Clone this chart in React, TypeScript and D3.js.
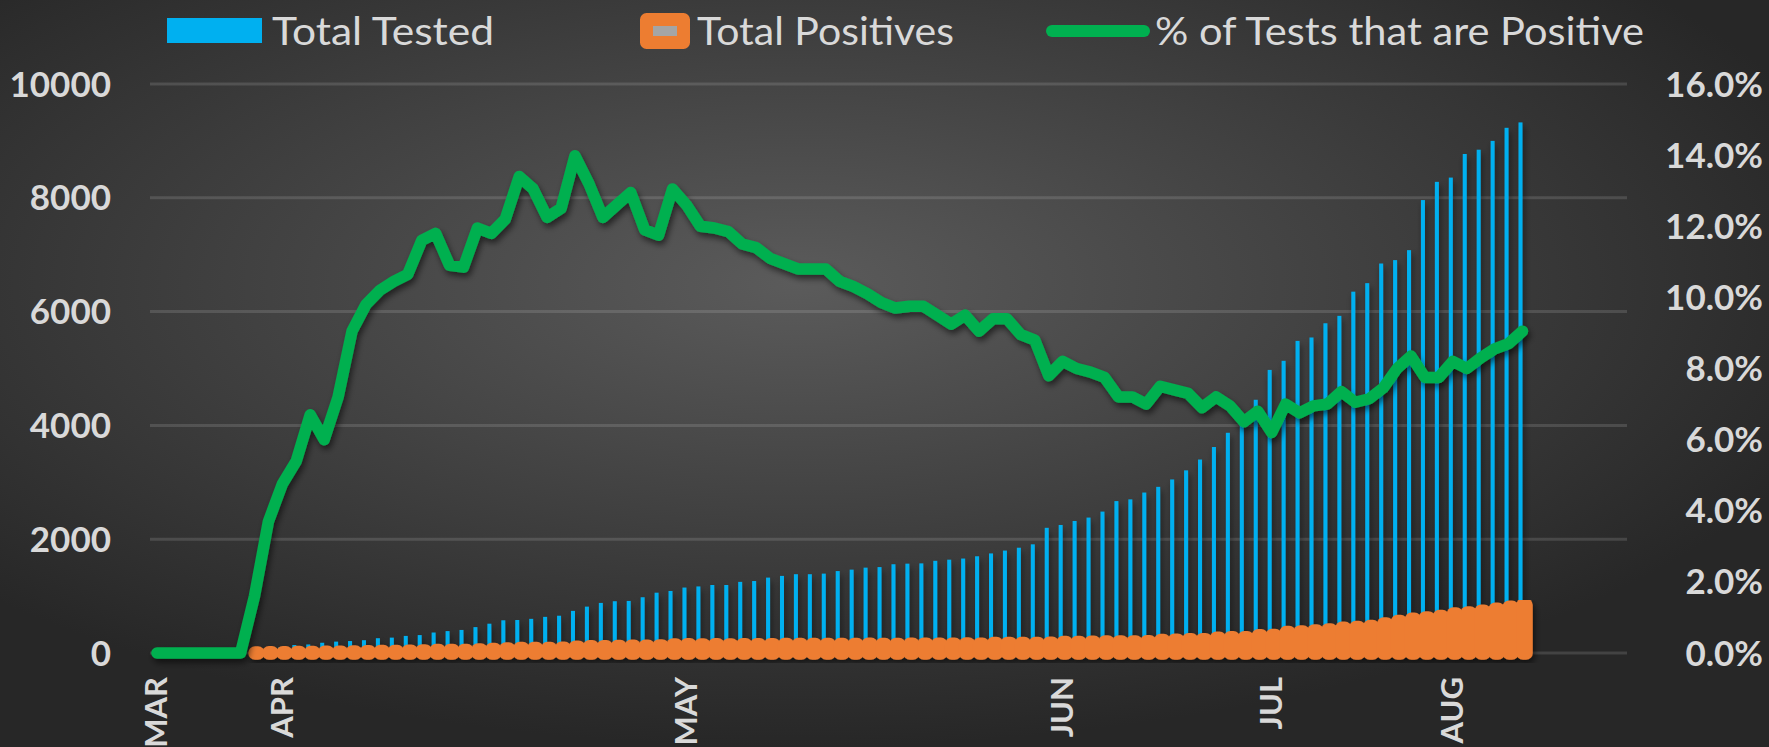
import { useMemo } from 'react';
import * as d3 from 'd3';

const width = 1769;
const height = 747;
const margin = { top: 84, right: 142, bottom: 94, left: 150 };

// category axis: one slot per reporting day, bars start at slot 7
const categoryCount = 106;
const barStart = 7;

const monthLabels = ['MAR', 'APR', 'MAY', 'JUN', 'JUL', 'AUG'];
const monthIndex = [0, 9, 38, 65, 80, 93];

const leftTicks = [0, 2000, 4000, 6000, 8000, 10000];
const rightTicks = [0, 2, 4, 6, 8, 10, 12, 14, 16];

// % of tests that are positive, slots 0..98
const pctPositive = [
  0, 0, 0, 0, 0, 0, 0, 1.6, 3.7, 4.75,
  5.4, 6.7, 6.0, 7.2, 9.05, 9.8, 10.2, 10.45, 10.65, 11.6,
  11.8, 10.9, 10.85, 11.95, 11.8, 12.2, 13.4, 13.05, 12.25, 12.5,
  13.98, 13.2, 12.25, 12.6, 12.95, 11.9, 11.75, 13.05, 12.6, 12.0,
  11.95, 11.85, 11.5, 11.4, 11.1, 10.95, 10.8, 10.8, 10.8, 10.45,
  10.3, 10.1, 9.85, 9.7, 9.75, 9.75, 9.5, 9.25, 9.5, 9.05,
  9.4, 9.4, 8.95, 8.8, 7.8, 8.2, 8.0, 7.9, 7.75, 7.2,
  7.2, 7.0, 7.5, 7.4, 7.3, 6.9, 7.2, 6.95, 6.5, 6.8,
  6.2, 7.0, 6.75, 6.95, 7.0, 7.35, 7.05, 7.15, 7.45, 8.0,
  8.35, 7.75, 7.75, 8.2, 8.0, 8.3, 8.55, 8.7, 9.05,
];

// totals from slot 7 onward
const totalTested = [
  30, 70, 100, 140, 150, 180, 200, 210, 225, 260,
  270, 300, 315, 360, 385, 405, 455, 515, 575, 580,
  600, 635, 655, 740, 815, 880, 910, 915, 980, 1060,
  1090, 1150, 1170, 1195, 1195, 1250, 1265, 1325, 1355, 1385,
  1385, 1395, 1440, 1465, 1500, 1510, 1560, 1570, 1575, 1620,
  1640, 1660, 1700, 1750, 1800, 1850, 1910, 2200, 2250, 2320,
  2380, 2485, 2670, 2700, 2820, 2920, 3050, 3210, 3400, 3620,
  3870, 4110, 4450, 4975, 5135, 5485, 5545, 5795, 5925, 6350,
  6500, 6845, 6905, 7080, 7960, 8280, 8355, 8770, 8845, 9000,
  9230, 9325,
];

const totalPositives = [
  1, 3, 5, 8, 10, 11, 14, 19, 22, 27,
  28, 32, 37, 42, 42, 44, 54, 61, 70, 78,
  78, 78, 82, 103, 108, 108, 115, 118, 117, 125,
  142, 145, 140, 143, 142, 144, 144, 147, 148, 150,
  150, 151, 150, 151, 152, 149, 151, 153, 154, 154,
  152, 158, 154, 165, 169, 166, 168, 172, 185, 186,
  188, 193, 192, 194, 197, 219, 226, 234, 235, 261,
  269, 267, 303, 308, 359, 370, 385, 406, 435, 448,
  465, 510, 552, 591, 617, 642, 685, 702, 734, 770,
  803, 844,
];

const textColor = '#d9d9d9';
const blue = '#00b0f0';
const orange = '#ed7d31';
const green = '#00b050';
const font = 'Lato, "Open Sans", sans-serif';

const App = () => {
  const x = useMemo(
    () =>
      d3
        .scaleBand<number>()
        .domain(d3.range(categoryCount))
        .range([margin.left, width - margin.right]),
    [],
  );
  const y = useMemo(
    () => d3.scaleLinear().domain([0, 10000]).range([height - margin.bottom, margin.top]),
    [],
  );
  const yPct = useMemo(
    () => d3.scaleLinear().domain([0, 16]).range([height - margin.bottom, margin.top]),
    [],
  );

  const cx = (i: number) => x(i)! + x.bandwidth() / 2;

  const linePath = d3
    .line<number>()
    .x((_, i) => cx(i))
    .y((d) => yPct(d))(pctPositive);

  const orangeW = 3;
  const blueW = 4;

  return (
    <svg
      width={width}
      height={height}
      style={{ position: 'absolute', left: 0, top: 0 }}
      fontFamily={font}
    >
      <defs>
        <radialGradient id="bg" cx="0.45" cy="0.38" r="0.62">
          <stop offset="0" stopColor="#5b5b5b" />
          <stop offset="1" stopColor="#272727" />
        </radialGradient>
        <filter id="shadow" x="-10%" y="-10%" width="120%" height="130%">
          <feDropShadow dx="2" dy="4" stdDeviation="3" floodColor="#000" floodOpacity="0.55" />
        </filter>
      </defs>
      <rect width={width} height={height} fill="url(#bg)" />

      {/* grid */}
      {leftTicks.map((t) => (
        <line
          key={t}
          x1={margin.left}
          x2={width - margin.right}
          y1={y(t)}
          y2={y(t)}
          stroke="rgba(217,217,217,0.16)"
          strokeWidth={3}
        />
      ))}

      {/* left axis */}
      {leftTicks.map((t) => (
        <text
          key={t}
          x={111}
          y={y(t) + 12.5}
          textAnchor="end"
          fontSize={35}
          fontWeight={700}
          fill={textColor}
        >
          {t}
        </text>
      ))}

      {/* right axis */}
      {rightTicks.map((t) => (
        <text
          key={t}
          x={1763}
          y={yPct(t) + 12.5}
          textAnchor="end"
          fontSize={35}
          fontWeight={700}
          fill={textColor}
        >
          {t.toFixed(1)}%
        </text>
      ))}

      {/* month labels */}
      {monthLabels.map((m, i) => (
        <text
          key={m}
          transform={`translate(${cx(monthIndex[i]) + 10.5}, 677) rotate(-90)`}
          textAnchor="end"
          fontSize={31}
          fontWeight={700}
          fill={textColor}
        >
          {m}
        </text>
      ))}

      {/* total tested */}
      <g filter="url(#shadow)">
        {totalTested.map((v, i) => (
          <rect
            key={i}
            x={cx(i + barStart) - 2 - blueW / 2}
            y={y(v)}
            width={blueW}
            height={y(0) - y(v)}
            fill={blue}
          />
        ))}
      </g>

      {/* total positives */}
      <g filter="url(#shadow)">
        {totalPositives.map((v, i) => {
          const x0 = cx(i + barStart) + 2 - orangeW / 2;
          return (
            <path
              key={i}
              d={`M${x0},${y(0)}V${y(v)}H${x0 + orangeW}V${y(0)}Z`}
              fill="#a5a5a5"
              stroke={orange}
              strokeWidth={13.5}
              strokeLinejoin="round"
            />
          );
        })}
      </g>

      {/* % positive */}
      <path
        d={linePath ?? ''}
        fill="none"
        stroke={green}
        strokeWidth={11.5}
        strokeLinejoin="round"
        strokeLinecap="round"
        filter="url(#shadow)"
      />

      {/* legend */}
      <rect x={167} y={18} width={95} height={25} fill={blue} />
      <text x={272} y={45} fontSize={39} fill={textColor} textLength={222} lengthAdjust="spacingAndGlyphs">
        Total Tested
      </text>
      <rect
        x={646.5}
        y={19.5}
        width={37}
        height={23}
        fill="#a5a5a5"
        stroke={orange}
        strokeWidth={13}
        strokeLinejoin="round"
      />
      <text x={697} y={45} fontSize={39} fill={textColor} textLength={257} lengthAdjust="spacingAndGlyphs">
        Total Positives
      </text>
      <line x1={1052} x2={1144} y1={31} y2={31} stroke={green} strokeWidth={12} strokeLinecap="round" />
      <text x={1155} y={45} fontSize={39} fill={textColor} textLength={489} lengthAdjust="spacingAndGlyphs">
        % of Tests that are Positive
      </text>
    </svg>
  );
};

export default App;
